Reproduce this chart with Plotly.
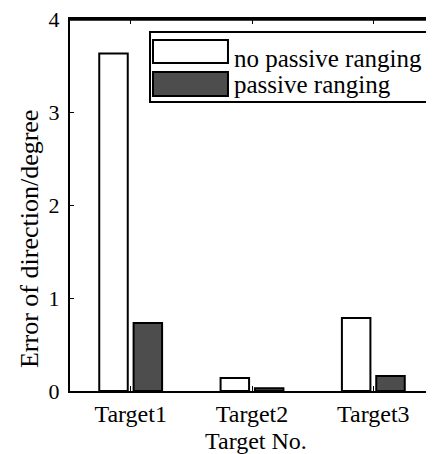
import plotly.graph_objects as go

categories = ["Target1", "Target2", "Target3"]
no_passive = [3.63, 0.14, 0.785]
passive = [0.73, 0.03, 0.16]
series_names = ["no passive ranging", "passive ranging"]
y_ticks = [0, 1, 2, 3, 4]
x_title = "Target No."
y_title = "Error of direction/degree"

FONT = "Liberation Serif"
fills = ["#ffffff", "#4d4d4d"]

fig = go.Figure()
for name, vals, col in zip(series_names, [no_passive, passive], fills):
    fig.add_trace(go.Bar(
        x=categories, y=vals, name=name,
        marker=dict(color=col, line=dict(color="black", width=2)),
        showlegend=False,
    ))

# top frame line
fig.add_shape(type="line", xref="paper", yref="paper", x0=0, x1=1, y0=0.998, y1=0.998,
              line=dict(color="black", width=2), layer="above")

# custom legend (large swatches like the original)
fig.add_shape(type="rect", xref="paper", yref="paper",
              x0=0.2198, x1=0.9808, y0=0.7769, y1=0.965,
              line=dict(color="black", width=2), fillcolor="white", layer="above")
sw = [(0.882, 0.9435), (0.793, 0.8575)]
ty = [0.8925, 0.825]
for (y0, y1), t, col, name in zip(sw, ty, fills, series_names):
    fig.add_shape(type="rect", xref="paper", yref="paper",
                  x0=0.228, x1=0.434, y0=y0, y1=y1,
                  line=dict(color="black", width=2), fillcolor=col, layer="above")
    fig.add_annotation(xref="paper", yref="paper", x=0.445, y=t,
                       text=name, showarrow=False, xanchor="left", yanchor="middle",
                       font=dict(family=FONT, size=25, color="black"))

# axis titles
fig.add_annotation(xref="paper", yref="paper", x=0.51, y=-0.134,
                   text=x_title, showarrow=False, xanchor="center", yanchor="middle",
                   font=dict(family=FONT, size=24, color="black"))
fig.add_annotation(xref="paper", yref="paper", x=-0.1126, y=0.4086,
                   text=y_title, showarrow=False, xanchor="center", yanchor="middle",
                   textangle=-90, font=dict(family=FONT, size=26, color="black"))

# page body has an 8px margin, so the figure is 8px smaller and margins shifted
fig.update_layout(
    width=426, height=446,
    margin=dict(l=62, r=0, t=11, b=63),
    paper_bgcolor="white", plot_bgcolor="white",
    barmode="group", bargap=0.434, bargroupgap=0.17,
    font=dict(family=FONT, color="black"),
)
fig.update_xaxes(
    range=[-0.5, 2.5], showgrid=False, zeroline=False,
    showline=True, linecolor="black", linewidth=2, mirror="allticks",
    ticks="inside", ticklen=5, tickwidth=1, tickcolor="black",
    tickfont=dict(size=24, family=FONT), ticklabelstandoff=0,
    ticklabeloverflow="allow", automargin=False,
)
fig.update_yaxes(
    range=[0, 4], tickvals=y_ticks, showgrid=False, zeroline=False,
    showline=True, linecolor="black", linewidth=2, mirror=False,
    ticks="inside", ticklen=4, tickwidth=1, tickcolor="black",
    tickfont=dict(size=22, family=FONT), ticklabelstandoff=4,
    ticklabeloverflow="allow", automargin=False,
)

fig.write_html("out.html")
